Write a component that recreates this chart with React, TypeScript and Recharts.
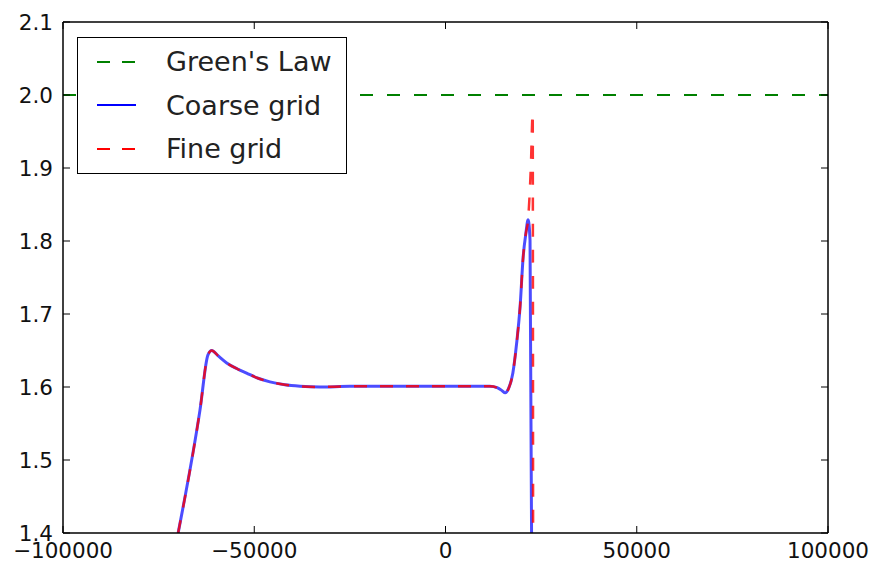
import React from 'react';
import { LineChart, Line, XAxis, YAxis, Legend } from 'recharts';

// values
const greensLaw = [
  { x: -100000, y: 2.0 },
  { x: 100000, y: 2.0 },
];

const coarseX = [
  -69900, -64200, -62100, -61100, -59500, -57200, -54500, -52000, -49000, -45900,
  -42000, -38000, -32800, -25000, -15000, -5000, 5000, 11600, 13500, 14800,
  15600, 16500, 17600, 18600, 19500, 20300, 21000, 21600, 22100, 22500,
];
const coarseY = [
  1.4, 1.568, 1.644, 1.65, 1.643, 1.633, 1.625, 1.619, 1.612, 1.607,
  1.603, 1.601, 1.6, 1.601, 1.601, 1.601, 1.601, 1.601, 1.599, 1.595,
  1.592, 1.598, 1.619, 1.66, 1.71, 1.778, 1.81, 1.829, 1.801, 1.4,
];

const fineX = [
  -69900, -64200, -62100, -61100, -59500, -57200, -54500, -52000, -49000, -45900,
  -42000, -38000, -32800, -25000, -15000, -5000, 5000, 11600, 13500, 14800,
  15600, 16500, 17600, 18600, 19500, 20300, 21000, 21600, 22300, 22800, 22900,
];
const fineY = [
  1.4, 1.568, 1.644, 1.65, 1.643, 1.633, 1.625, 1.619, 1.612, 1.607,
  1.603, 1.601, 1.6, 1.601, 1.601, 1.601, 1.601, 1.601, 1.599, 1.595,
  1.592, 1.598, 1.619, 1.66, 1.71, 1.778, 1.81, 1.83, 1.9, 1.975, 1.4,
];

const xTicks = [-100000, -50000, 0, 50000, 100000];
const yTicks = [1.4, 1.5, 1.6, 1.7, 1.8, 1.9, 2.0, 2.1];

const coarse = coarseX.map((x, i) => ({ x, y: coarseY[i] }));
const fine = fineX.map((x, i) => ({ x, y: fineY[i] }));

const FONT = '"DejaVu Sans", sans-serif';

const legendItems = [
  { name: "Green's Law", color: '#008000', dash: '13 12' },
  { name: 'Coarse grid', color: '#0000ff', dash: undefined },
  { name: 'Fine grid', color: '#ff0000', dash: '13 12' },
];

const LegendBox = () => (
  <div
    style={{
      border: '1.5px solid #000',
      background: '#fff',
      width: 270,
      height: 137,
      boxSizing: 'border-box',
      paddingTop: 2,
      fontFamily: FONT,
      fontSize: 27,
      color: '#222',
    }}
  >
    {legendItems.map((it) => (
      <div key={it.name} style={{ display: 'flex', alignItems: 'center', height: 43.5 }}>
        <svg width={88} height={10} style={{ flex: 'none' }}>
          <line
            x1={19}
            x2={58}
            y1={5}
            y2={5}
            stroke={it.color}
            strokeWidth={2}
            strokeDasharray={it.dash}
          />
        </svg>
        <span style={{ whiteSpace: 'nowrap' }}>{it.name}</span>
      </div>
    ))}
  </div>
);

const fmtX = (v: number) => String(v).replace('-', '\u2212');
const noTick = () => <g />;

export default function App() {
  const tickStyle = { fill: '#111', fontSize: 21.5, fontFamily: FONT };
  const frame = { stroke: '#000', strokeWidth: 1.5 };
  return (
    <div style={{ position: 'absolute', left: 0, top: 0, background: '#fff' }}>
      <LineChart
        width={873}
        height={569}
        margin={{ top: 21, right: 44, bottom: 0, left: 0 }}
        style={{ fontFamily: FONT }}
      >
        <XAxis
          xAxisId="b"
          type="number"
          dataKey="x"
          domain={[-100000, 100000]}
          ticks={xTicks}
          tickFormatter={fmtX}
          height={36}
          tickSize={-7}
          tickMargin={17}
          tick={tickStyle}
          axisLine={frame}
          tickLine={{ stroke: '#000' }}
          allowDataOverflow
        />
        <XAxis
          xAxisId="t"
          orientation="top"
          type="number"
          dataKey="x"
          domain={[-100000, 100000]}
          ticks={xTicks}
          height={1}
          tickSize={-7}
          tick={noTick}
          axisLine={frame}
          tickLine={{ stroke: '#000' }}
          allowDataOverflow
        />
        <YAxis
          yAxisId="l"
          type="number"
          domain={[1.4, 2.1]}
          ticks={yTicks}
          tickFormatter={(v: number) => v.toFixed(1)}
          width={63}
          tickSize={-7}
          tickMargin={17}
          tick={tickStyle}
          axisLine={frame}
          tickLine={{ stroke: '#000' }}
          allowDataOverflow
        />
        <YAxis
          yAxisId="r"
          orientation="right"
          type="number"
          domain={[1.4, 2.1]}
          ticks={yTicks}
          width={1}
          tickSize={-7}
          tick={noTick}
          axisLine={frame}
          tickLine={{ stroke: '#000' }}
          allowDataOverflow
        />
        {/* invisible copy bound to the top/right axes so they get drawn */}
        <Line
          xAxisId="t"
          yAxisId="r"
          data={greensLaw}
          dataKey="y"
          stroke="none"
          dot={false}
          legendType="none"
          isAnimationActive={false}
        />
        <Line
          xAxisId="b"
          yAxisId="l"
          data={greensLaw}
          dataKey="y"
          stroke="#008000"
          strokeWidth={2}
          strokeDasharray="13 14"
          dot={false}
          isAnimationActive={false}
        />
        <Line
          xAxisId="b"
          yAxisId="l"
          data={coarse}
          dataKey="y"
          type="monotone"
          stroke="#0000ff"
          strokeOpacity={0.7}
          strokeWidth={3}
          dot={false}
          isAnimationActive={false}
        />
        <Line
          xAxisId="b"
          yAxisId="l"
          data={fine}
          dataKey="y"
          type="monotone"
          stroke="#ff0000"
          strokeOpacity={0.8}
          strokeWidth={2.5}
          strokeDasharray="13 13"
          dot={false}
          isAnimationActive={false}
        />
        <Legend
          layout="vertical"
          align="center"
          verticalAlign="middle"
          content={() => <LegendBox />}
          wrapperStyle={{ left: 77, top: 37, width: 270, height: 137 }}
        />
      </LineChart>
    </div>
  );
}
